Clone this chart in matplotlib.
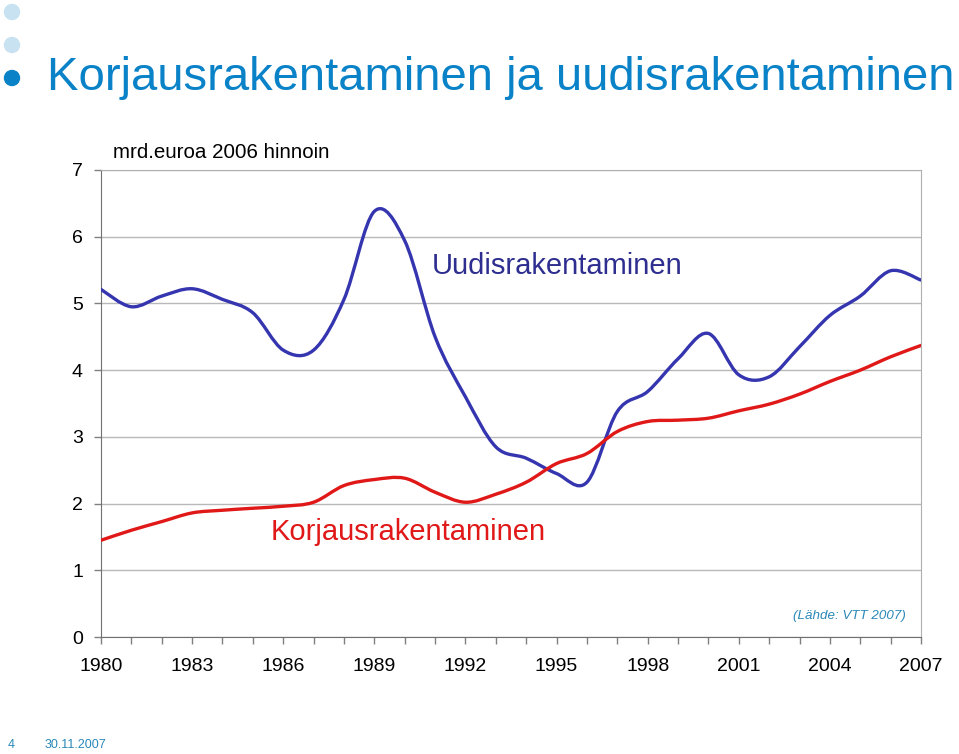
import numpy as np
import matplotlib
matplotlib.use("Agg")
import matplotlib.pyplot as plt
from matplotlib.path import Path
from matplotlib.patches import PathPatch, Ellipse

plt.rcParams["font.family"] = ["Liberation Sans", "DejaVu Sans"]

# data (mrd. euroa, 2006 prices)
years = list(range(1980, 2008))
uudis = [5.21, 4.95, 5.11, 5.22, 5.06, 4.86, 4.30, 4.30, 5.06, 6.38,
         5.94, 4.50, 3.60, 2.85, 2.68, 2.45, 2.32, 3.38, 3.68, 4.17,
         4.55, 3.93, 3.90, 4.35, 4.82, 5.11, 5.49, 5.35]
korjaus = [1.45, 1.60, 1.73, 1.86, 1.90, 1.93, 1.96, 2.02, 2.27, 2.36,
           2.38, 2.17, 2.02, 2.14, 2.32, 2.60, 2.75, 3.08, 3.23, 3.25,
           3.28, 3.39, 3.49, 3.64, 3.83, 4.00, 4.20, 4.37]
year_labels = ["1980", "1983", "1986", "1989", "1992", "1995", "1998", "2001", "2004", "2007"]

BLUE = "#3535b0"
RED = "#e01818"
TITLE_BLUE = "#0a82c8"
NOTE_BLUE = "#2a88b8"


def smooth_path(x, y):
    """Excel-style smoothed line: Catmull-Rom segments as cubic Beziers."""
    p = np.column_stack([x, y]).astype(float)
    n = len(p)
    verts = [p[0]]
    codes = [Path.MOVETO]
    for i in range(n - 1):
        p0 = p[i - 1] if i > 0 else p[i]
        p3 = p[i + 2] if i + 2 < n else p[i + 1]
        c1 = p[i] + (p[i + 1] - p0) / 6.0
        c2 = p[i + 1] - (p3 - p[i]) / 6.0
        verts += [c1, c2, p[i + 1]]
        codes += [Path.CURVE4] * 3
    return Path(verts, codes)


fig = plt.figure(figsize=(9.59, 7.54), dpi=100)
ax = fig.add_axes([101 / 959, 117 / 754, 820 / 959, 467 / 754])

for vals, col in [(uudis, BLUE), (korjaus, RED)]:
    ax.add_patch(PathPatch(smooth_path(years, vals), facecolor="none",
                           edgecolor=col, lw=2.4, capstyle="round",
                           joinstyle="round", zorder=3))

ax.set_xlim(1980, 2007)
ax.set_ylim(0, 7)
ax.set_yticks(range(0, 8))
ax.set_xticks(years, minor=True)
ax.set_xticks(range(1980, 2008, 3))
ax.set_xticklabels(year_labels)
ax.grid(axis="y", color="#b8b8b8", lw=1)
ax.set_axisbelow(True)
ax.tick_params(axis="both", which="both", direction="out", color="#808080",
               labelsize=14, length=5, width=1)
ax.tick_params(axis="x", which="major", pad=10)
ax.tick_params(axis="y", pad=8)
for side in ["left", "bottom"]:
    ax.spines[side].set_color("#707070")
for side in ["top", "right"]:
    ax.spines[side].set_color("#b0b0b0")

# series labels and notes
ax.text(1990.9, 5.56, "Uudisrakentaminen", color="#2e2e90", fontsize=21, va="center")
ax.text(1985.6, 1.57, "Korjausrakentaminen", color=RED, fontsize=21, va="center")
ax.text(2006.5, 0.32, "(Lähde: VTT 2007)", color=NOTE_BLUE, fontsize=9.6,
        style="italic", ha="right", va="center")
fig.text(113 / 959, 1 - 153 / 754, "mrd.euroa 2006 hinnoin", fontsize=14.8, va="center")

# slide title with bullets
fig.text(47 / 959, 1 - 78 / 754, "Korjausrakentaminen ja uudisrakentaminen",
         color=TITLE_BLUE, fontsize=34, va="center")
for yb, col in [(12, "#c8e2f2"), (45, "#c8e2f2"), (78, TITLE_BLUE)]:
    fig.patches.append(Ellipse((12 / 959, 1 - yb / 754), 15 / 959, 15 / 754,
                               transform=fig.transFigure, color=col))

# footer
fig.text(8 / 959, 1 - 745 / 754, "4", color=NOTE_BLUE, fontsize=9, va="center")
fig.text(45 / 959, 1 - 745 / 754, "30.11.2007", color=NOTE_BLUE, fontsize=9, va="center")

fig.savefig("out.png", dpi=100)
